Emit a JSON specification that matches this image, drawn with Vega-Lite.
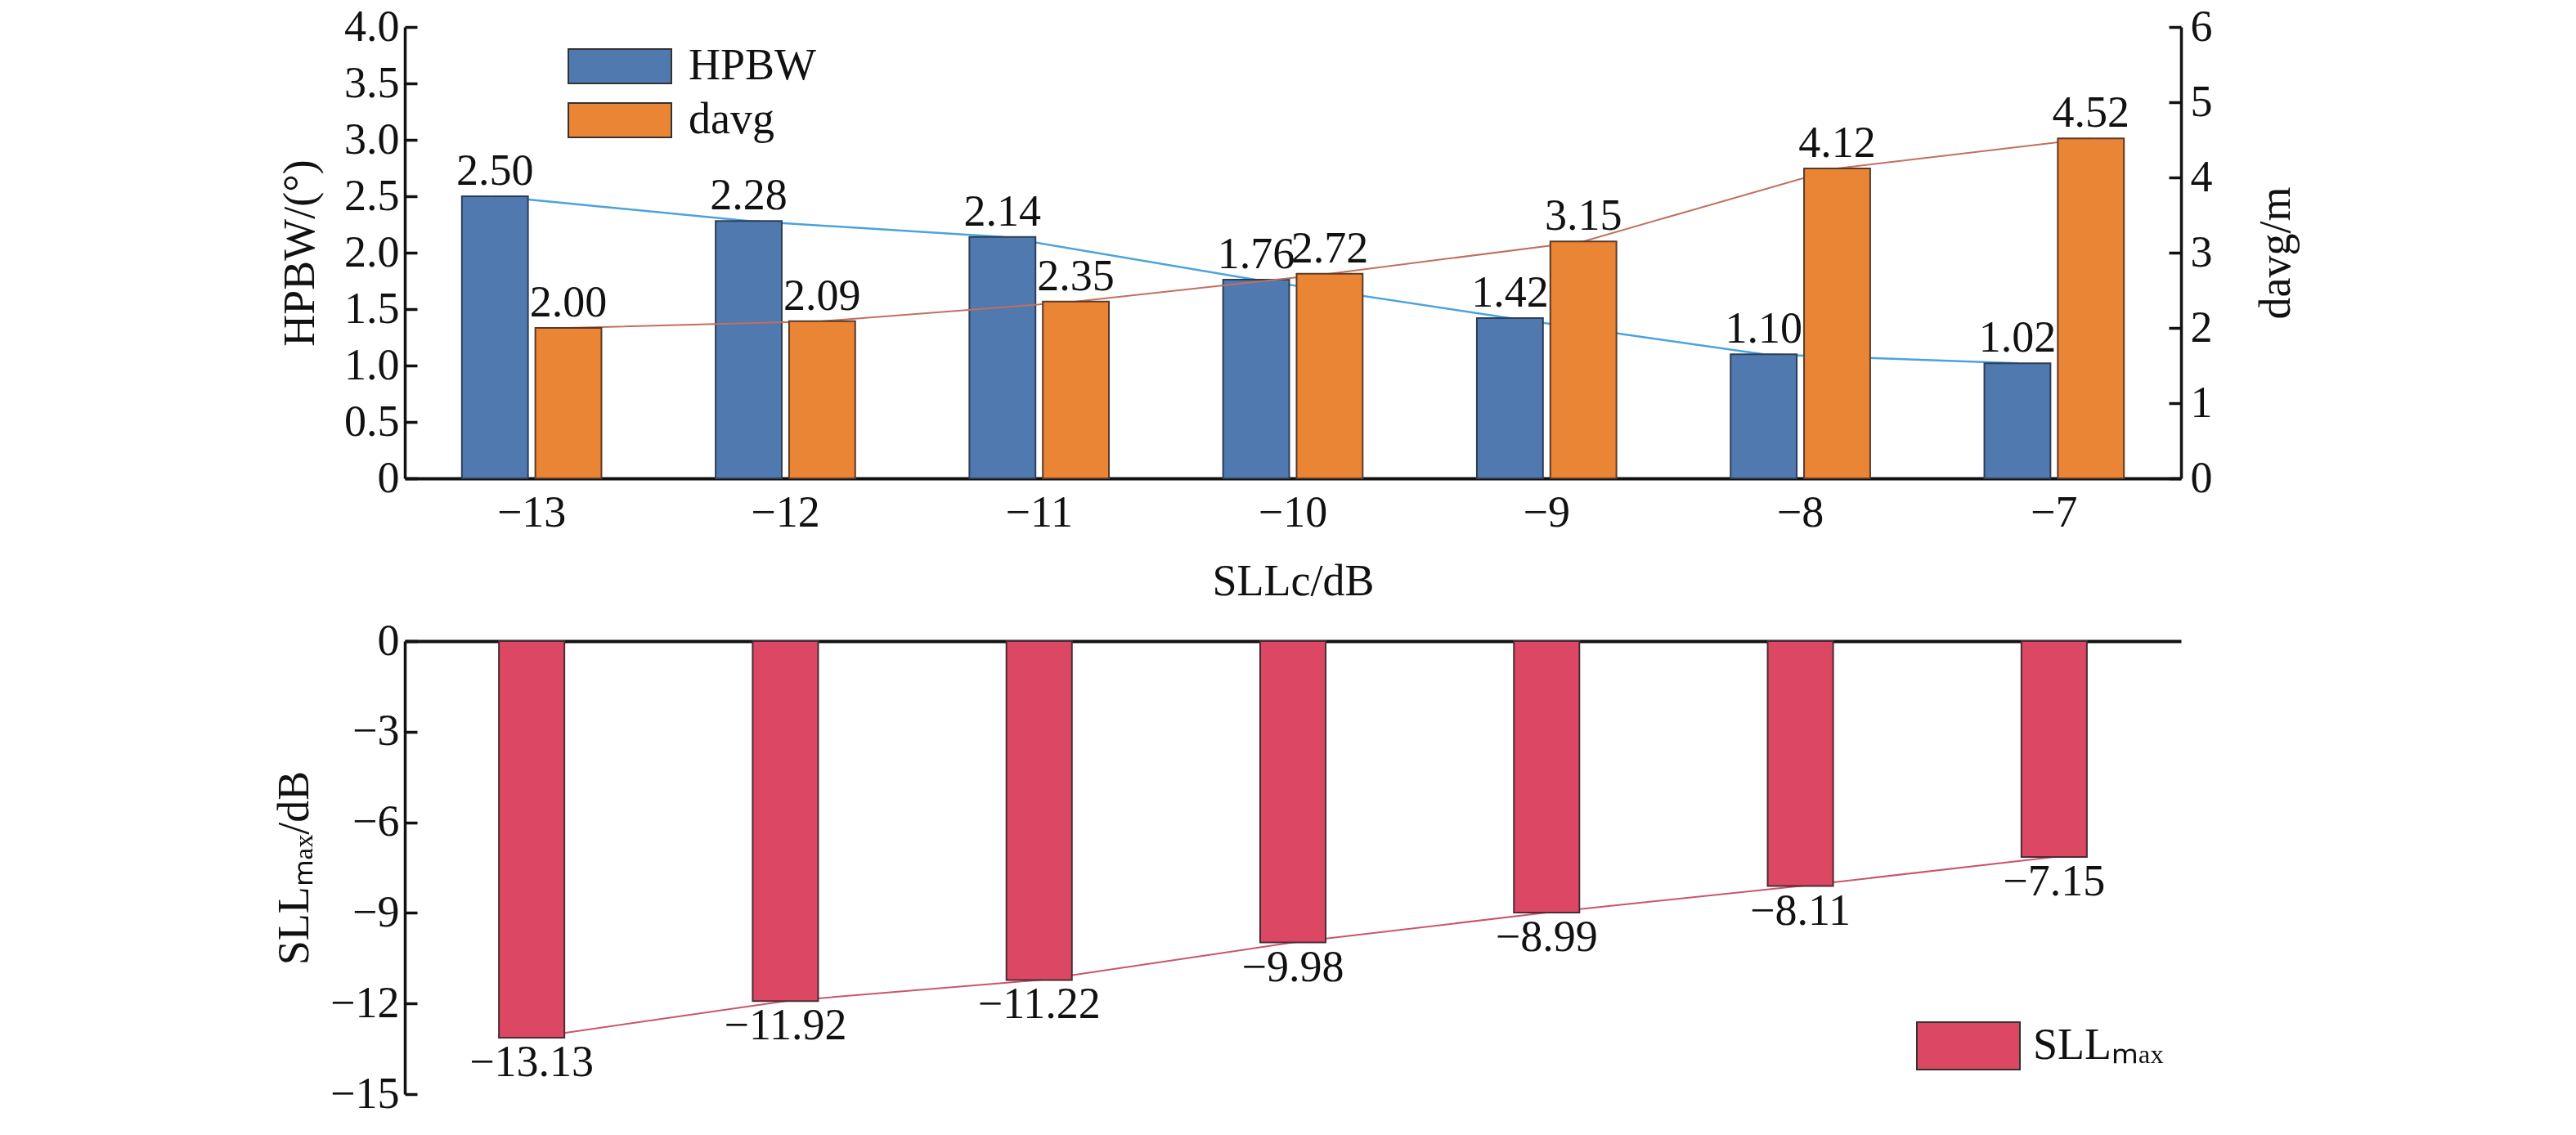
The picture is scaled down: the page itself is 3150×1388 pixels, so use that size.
{
  "$schema": "https://vega.github.io/schema/vega-lite/v6.json",
  "background": "white",
  "padding": {"left": 333, "top": 6, "right": 10, "bottom": 0},
  "config": {
    "font": "Liberation Serif",
    "view": {"stroke": null},
    "concat": {"spacing": 19},
    "axis": {
      "labelFont": "Liberation Serif",
      "titleFont": "Liberation Serif",
      "labelFontSize": 54,
      "titleFontSize": 54,
      "titleFontWeight": "normal",
      "labelColor": "#111111",
      "titleColor": "#111111",
      "domainColor": "#111111",
      "tickColor": "#111111",
      "domainWidth": 3.5,
      "tickWidth": 3.5,
      "grid": false
    },
    "legend": {
      "labelFont": "Liberation Serif",
      "labelFontSize": 54,
      "labelColor": "#111111",
      "padding": 0,
      "rowPadding": 12,
      "symbolStrokeColor": "#333333",
      "symbolStrokeWidth": 2
    }
  },
  "data": {
    "values": [
      {"sll": -13, "HPBW": 2.50, "davg": 2.00, "SLLmax": -13.13},
      {"sll": -12, "HPBW": 2.28, "davg": 2.09, "SLLmax": -11.92},
      {"sll": -11, "HPBW": 2.14, "davg": 2.35, "SLLmax": -11.22},
      {"sll": -10, "HPBW": 1.76, "davg": 2.72, "SLLmax": -9.98},
      {"sll": -9, "HPBW": 1.42, "davg": 3.15, "SLLmax": -8.99},
      {"sll": -8, "HPBW": 1.10, "davg": 4.12, "SLLmax": -8.11},
      {"sll": -7, "HPBW": 1.02, "davg": 4.52, "SLLmax": -7.15}
    ]
  },
  "vconcat": [
    {
      "width": 2172,
      "height": 552,
      "transform": [{"fold": ["HPBW", "davg"], "as": ["series", "value"]}],
      "encoding": {
        "x": {
          "field": "sll",
          "type": "ordinal",
          "scale": {"paddingInner": 0.45, "paddingOuter": 0.225},
          "title": "SLLc/dB",
          "axis": {
            "ticks": false,
            "labelAngle": 0,
            "labelPadding": 15,
            "titlePadding": 30,
            "domainWidth": 4,
            "labelExpr": "replace(datum.label, '-', '−')"
          }
        },
        "xOffset": {
          "field": "series",
          "scale": {"domain": ["HPBW", "davg"], "paddingInner": 0.1}
        }
      },
      "layer": [
        {
          "transform": [{"filter": "datum.series === 'HPBW'"}],
          "encoding": {
            "y": {
              "field": "value",
              "type": "quantitative",
              "scale": {"domain": [0, 4]},
              "title": "HPBW/(°)",
              "axis": {
                "values": [0, 0.5, 1, 1.5, 2, 2.5, 3, 3.5, 4],
                "tickSize": -15,
                "labelPadding": 22,
                "titlePadding": 26,
                "labelExpr": "datum.value == 0 ? '0' : format(datum.value, '.1f')"
              }
            }
          },
          "layer": [
            {"mark": {"type": "line", "color": "#4ba3dc", "strokeWidth": 2.5}},
            {
              "mark": {"type": "bar", "stroke": "#2e3d58", "strokeWidth": 2},
              "encoding": {
                "color": {
                  "field": "series",
                  "type": "nominal",
                  "scale": {"domain": ["HPBW", "davg"], "range": ["#5079b0", "#ea8536"]},
                  "legend": {
                    "title": null,
                    "orient": "none",
                    "legendX": 236,
                    "legendY": 21,
                    "labelOffset": 57,
                    "symbolType": "M-3,-1H3V1H-3Z",
                    "symbolSize": 1764
                  }
                }
              }
            },
            {
              "mark": {"type": "text", "baseline": "alphabetic", "dy": -14, "fontSize": 54, "color": "#111111"},
              "encoding": {"text": {"field": "value", "type": "quantitative", "format": ".2f"}}
            }
          ]
        },
        {
          "transform": [{"filter": "datum.series === 'davg'"}],
          "encoding": {
            "y": {
              "field": "value",
              "type": "quantitative",
              "scale": {"domain": [0, 6]},
              "title": "davg/m",
              "axis": {
                "orient": "right",
                "values": [0, 1, 2, 3, 4, 5, 6],
                "format": "d",
                "tickSize": -15,
                "labelPadding": 26,
                "titlePadding": 51,
                "titleAngle": -90,
                "titleBaseline": "top"
              }
            }
          },
          "layer": [
            {"mark": {"type": "line", "color": "#c0705f", "strokeWidth": 2}},
            {
              "mark": {"type": "bar", "stroke": "#5a3a28", "strokeWidth": 2},
              "encoding": {
                "color": {"field": "series", "type": "nominal"}
              }
            },
            {
              "mark": {"type": "text", "baseline": "alphabetic", "dy": -14, "fontSize": 54, "color": "#111111"},
              "encoding": {"text": {"field": "value", "type": "quantitative", "format": ".2f"}}
            }
          ]
        }
      ],
      "resolve": {"scale": {"y": "independent"}, "axis": {"y": "independent"}}
    },
    {
      "width": 2172,
      "height": 554,
      "encoding": {
        "x": {
          "field": "sll",
          "type": "ordinal",
          "scale": {"paddingInner": 0.742, "paddingOuter": 0.371},
          "axis": {"orient": "top", "labels": false, "ticks": false, "title": null, "domainWidth": 4}
        },
        "y": {
          "field": "SLLmax",
          "type": "quantitative",
          "scale": {"domain": [-15, 0]},
          "title": "SLLₘₐₓ/dB",
          "axis": {
            "values": [0, -3, -6, -9, -12, -15],
            "tickSize": -15,
            "labelPadding": 22,
            "titlePadding": 16
          }
        }
      },
      "layer": [
        {"mark": {"type": "line", "color": "#c8566c", "strokeWidth": 2}},
        {
          "mark": {"type": "bar", "stroke": "#4a2c33", "strokeWidth": 2},
          "encoding": {
            "color": {
              "datum": "SLLₘₐₓ",
              "type": "nominal",
              "scale": {"range": ["#dc4864"]},
              "legend": {
                "title": null,
                "orient": "none",
                "legendX": 1882,
                "legendY": 465,
                "labelOffset": 49,
                "symbolType": "M-2.1724,-1H2.1724V1H-2.1724Z",
                "symbolSize": 3364
              }
            }
          }
        },
        {
          "mark": {"type": "text", "baseline": "top", "dy": 4, "fontSize": 54, "color": "#111111"},
          "encoding": {"text": {"field": "SLLmax", "type": "quantitative", "format": ".2f"}}
        }
      ]
    }
  ],
  "resolve": {"scale": {"color": "independent"}, "legend": {"color": "independent"}}
}
